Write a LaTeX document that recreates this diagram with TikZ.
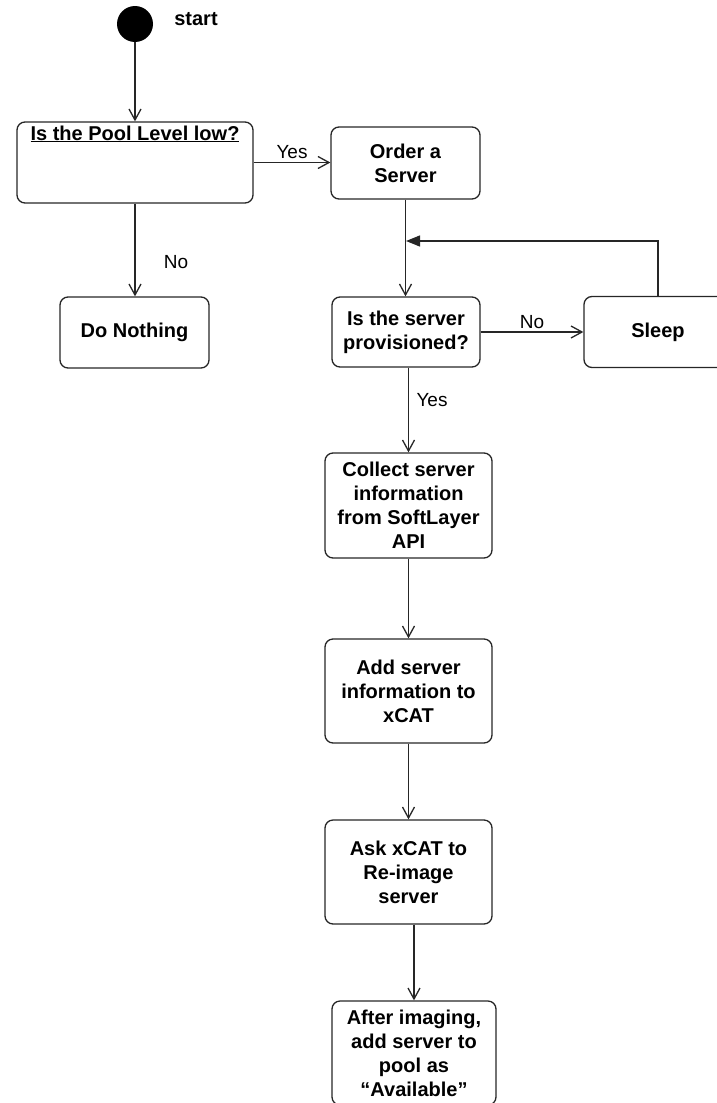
\documentclass[tikz,border=0pt]{standalone}
\usepackage{fontspec}
\setmainfont{Liberation Sans}
\usetikzlibrary{arrows.meta}
\begin{document}
\begin{tikzpicture}[x=1pt,y=-1pt,
  box/.style={draw=black!85, line width=1.3pt, rounded corners=8pt, align=center,
    font=\bfseries\fontsize{20}{24}\selectfont, inner sep=0pt},
  lbl/.style={font=\fontsize{19}{22}\selectfont, inner sep=0pt},
  flow/.style={draw=black!85, line width=1.3pt,
    -{Straight Barb[length=11pt,width=12pt,line width=1.3pt]}},
  back/.style={draw=black!85, line width=1.3pt,
    -{Triangle[length=14pt,width=11pt]}},
]
\useasboundingbox (0,0) rectangle (717,1103);
\clip (0,0) rectangle (717,1103);

% initial state
\node[circle, fill=black, inner sep=0pt, minimum size=36pt] (start) at (135,24) {};
\node[font=\bfseries\fontsize{20}{24}\selectfont, inner sep=0pt] (startlbl) at (196,19) {start};

% activities
\node[box, minimum width=236pt, minimum height=81pt,
  label={[anchor=north, yshift=-4pt, inner sep=0pt, font=\bfseries\fontsize{20}{24}\selectfont]north:\underline{Is the Pool Level low?}}]
  (pool) at (135,162.5) {};
\node[box, minimum width=149pt, minimum height=72pt] (order) at (405.5,163) {Order a\\Server};
\node[box, minimum width=149pt, minimum height=71pt] (nothing) at (134.5,332.5) {Do Nothing};
\node[box, minimum width=148pt, minimum height=70pt] (prov) at (406,332) {Is the server\\provisioned?};
\node[box, minimum width=148pt, minimum height=71pt] (sleep) at (658,332) {Sleep};
\node[box, minimum width=167pt, minimum height=105pt] (collect) at (408.5,505.5)
  {Collect server\\information\\from SoftLayer\\API};
\node[box, minimum width=167pt, minimum height=104pt] (add) at (408.5,691)
  {Add server\\information to\\xCAT};
\node[box, minimum width=167pt, minimum height=104pt] (ask) at (408.5,872)
  {Ask xCAT to\\Re-image\\server};
\node[box, minimum width=164pt, minimum height=104pt] (after) at (414,1053)
  {After imaging,\\add server to\\pool as\\“Available”};

% transitions
\draw[flow] (start) -- (pool.north);
\draw[flow] (pool.east) -- (pool.east -| order.west);
\draw[flow] (pool.south) -- (pool.south |- nothing.north);
\draw[flow] (order.south) -- (order.south |- prov.north);
\coordinate (join) at (406,241);
\draw[back] (sleep.north) |- (join);
\draw[flow] (prov.east) -- (sleep.west);
\draw[flow] (collect.north |- prov.south) -- (collect.north);
\draw[flow] (collect.south) -- (add.north);
\draw[flow] (add.south) -- (ask.north);
\draw[flow] (after.north |- ask.south) -- (after.north);

% guards
\node[lbl] (yes1) at (292,152) {Yes};
\node[lbl] (no1) at (176,262) {No};
\node[lbl] (no2) at (532,322) {No};
\node[lbl] (yes2) at (432,400) {Yes};
\end{tikzpicture}
\end{document}
